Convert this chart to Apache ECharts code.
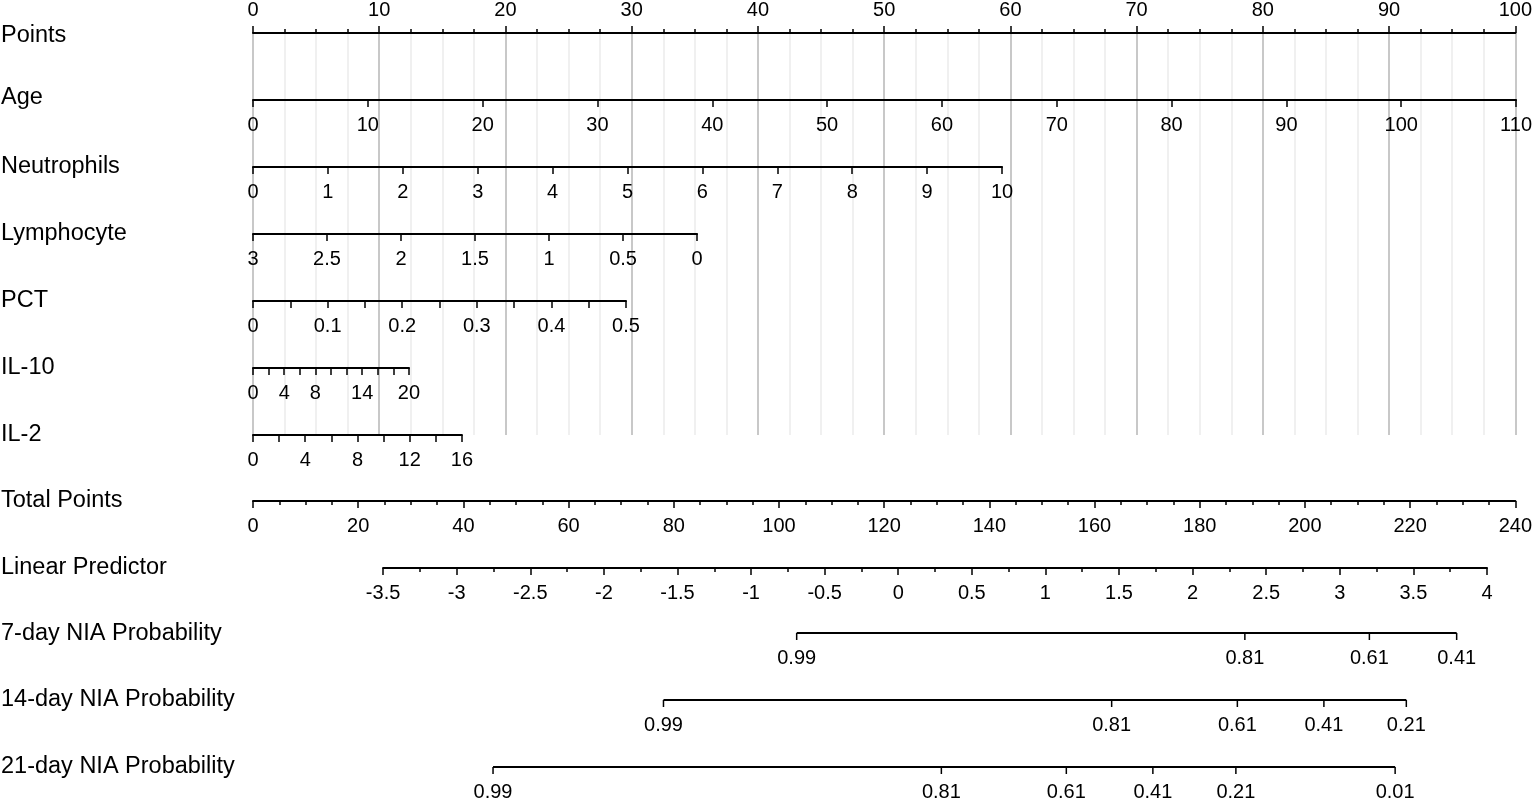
<!DOCTYPE html>
<html><head><meta charset="utf-8">
<script src="https://cdn.jsdelivr.net/npm/echarts@6/dist/echarts.min.js"></script>
<style>html,body{margin:0;padding:0;background:#fff}#c{width:1535px;height:803px}</style>
</head><body><div id="c"></div>
<script>
// ---------- DATA ----------
const rowNames = ['Points','Age','Neutrophils','Lymphocyte','PCT','IL-10','IL-2','Total Points','Linear Predictor','7-day NIA Probability','14-day NIA Probability','21-day NIA Probability'];

const pointsRange = [0, 100];
const pointsStep = 10;

const predictorNames = ['Age','Neutrophils','Lymphocyte','PCT','IL-10','IL-2'];
const predictorMin = [0, 0, 0, 0, 0, 0];
const predictorMax = [110, 10, 3, 0.5, 20, 16];
const predictorTickStep = [10, 1, 0.5, 0.05, 2, 2];
const predictorReversed = [false, false, true, false, false, false];
const predictorMaxPoints = [100, 59.26, 35.13, 29.51, 12.34, 16.53];
const pctLabels = [0, 0.1, 0.2, 0.3, 0.4, 0.5];
const il10Labels = [0, 4, 8, 14, 20];
const il2Labels = [0, 4, 8, 12, 16];
const predictorLabels = [null, null, null, pctLabels, il10Labels, il2Labels];

const totalPointsRange = [0, 240];
const totalPointsStep = 20;

const lpRange = [-3.5, 4];
const lpStep = 0.5;
const lpAtTotalPoints = [24.7, 234.3];

const probRowNames = ['7-day', '14-day', '21-day'];
const prob7Labels = ['0.99', '0.81', '0.61', '0.41'];
const prob7LP = [-0.690, 2.355, 3.201, 3.794];
const prob14Labels = ['0.99', '0.81', '0.61', '0.41', '0.21'];
const prob14LP = [-1.595, 1.450, 2.304, 2.892, 3.452];
const prob21Labels = ['0.99', '0.81', '0.61', '0.41', '0.21', '0.01'];
const prob21LP = [-2.753, 0.293, 1.142, 1.730, 2.294, 3.376];
const probLabels = [prob7Labels, prob14Labels, prob21Labels];
const probLP = [prob7LP, prob14LP, prob21LP];

// ---------- LAYOUT ----------
const plotLeft = 253, plotWidth = 1264;
const rowY = [33, 100, 167, 234, 301, 368, 435, 501, 568, 633, 700, 768];
const titleY = [36, 98, 167, 234, 301, 368, 435, 501, 568, 634, 700, 767];
const FONT = '"Liberation Sans", Arial, Helvetica, sans-serif';
const TICK_FS = 20, TITLE_FS = 23.5, LABEL_MARGIN = 15, TICK_LEN = 7;

const grids = [], xAxes = [], yAxes = [];
function baseX(extra) {
  return Object.assign({
    type: 'value', z: 3,
    axisLine: { show: true, onZero: false, lineStyle: { color: '#000', width: 2 } },
    axisTick: { show: true, length: TICK_LEN, lineStyle: { color: '#000', width: 1.5 } },
    axisLabel: { show: true, color: '#000', fontSize: TICK_FS, fontFamily: FONT, margin: LABEL_MARGIN, hideOverlap: false, showMinLabel: true, showMaxLabel: true },
    splitLine: { show: false }
  }, extra);
}
function addGrid(g, x, y) {
  const idx = grids.length;
  grids.push(Object.assign({ containLabel: false }, g));
  xAxes.push(Object.assign(x, { gridIndex: idx }));
  yAxes.push(Object.assign(y || { type: 'value', show: false, min: 0, max: 1 }, { gridIndex: idx }));
  return idx;
}
function inList(list, v) { return list.some(u => Math.abs(u - v) < 1e-9); }

// Points axis with reference grid lines
addGrid({ left: plotLeft, width: plotWidth, top: rowY[0], height: rowY[6] - rowY[0] },
  baseX({
    min: pointsRange[0], max: pointsRange[1], interval: pointsStep, position: 'top', z: 1,
    axisLabel: { show: true, color: '#000', fontSize: TICK_FS, fontFamily: FONT, margin: 13, hideOverlap: false },
    minorTick: { show: true, splitNumber: 4, length: 4, lineStyle: { color: '#000', width: 1.5 } },
    splitLine: { show: true, lineStyle: { color: '#c8c8c8', width: 2 } },
    minorSplitLine: { show: true, lineStyle: { color: '#ececec', width: 1.5 } }
  }));

// Predictor axes
predictorNames.forEach((n, i) => {
  const labs = predictorLabels[i];
  const ax = baseX({
    min: predictorMin[i], max: predictorMax[i], interval: predictorTickStep[i],
    position: 'bottom', inverse: predictorReversed[i]
  });
  if (labs) ax.axisLabel.formatter = v => inList(labs, v) ? String(+(+v).toFixed(4)) : '';
  addGrid({ left: plotLeft, width: plotWidth * predictorMaxPoints[i] / pointsRange[1], top: rowY[i + 1] - 1, height: 1 }, ax);
});

// Total points
addGrid({ left: plotLeft, width: plotWidth, top: rowY[7] - 1, height: 1 },
  baseX({
    min: totalPointsRange[0], max: totalPointsRange[1], interval: totalPointsStep, position: 'bottom',
    minorTick: { show: true, splitNumber: 4, length: 4, lineStyle: { color: '#000', width: 1.5 } }
  }));

// Linear predictor
const lpLeft = plotLeft + plotWidth * lpAtTotalPoints[0] / totalPointsRange[1];
const lpWidth = plotWidth * (lpAtTotalPoints[1] - lpAtTotalPoints[0]) / totalPointsRange[1];
addGrid({ left: lpLeft, width: lpWidth, top: rowY[8] - 1, height: 1 },
  baseX({
    min: lpRange[0], max: lpRange[1], interval: lpStep, position: 'bottom',
    minorTick: { show: true, splitNumber: 2, length: 4, lineStyle: { color: '#000', width: 1.5 } }
  }));

// Probability rows: hidden LP scale + category rows
const rowGap = rowY[10] - rowY[9];
const probGrid = addGrid({ left: lpLeft, width: lpWidth, top: rowY[9] - rowGap / 2, height: rowGap * 3 },
  { type: 'value', min: lpRange[0], max: lpRange[1], show: false },
  { type: 'category', data: probRowNames, inverse: true, show: false });

const series = [{
  type: 'custom', xAxisIndex: probGrid, yAxisIndex: probGrid, clip: false, silent: true,
  data: probLP.map((lps, k) => [lps[0], k]),
  renderItem: function (params, api) {
    const k = params.dataIndex;
    const lps = probLP[k], labs = probLabels[k];
    const p0 = api.coord([lps[0], k]), p1 = api.coord([lps[lps.length - 1], k]);
    const children = [{ type: 'line', shape: { x1: p0[0], y1: p0[1], x2: p1[0], y2: p1[1] }, style: { stroke: '#000', lineWidth: 2 } }];
    lps.forEach((v, j) => {
      const p = api.coord([v, k]);
      children.push({ type: 'line', shape: { x1: p[0], y1: p[1], x2: p[0], y2: p[1] + TICK_LEN }, style: { stroke: '#000', lineWidth: 1.5 } });
      children.push({ type: 'text', style: { x: p[0], y: p[1] + LABEL_MARGIN, text: labs[j], fill: '#000', fontSize: TICK_FS, fontFamily: FONT, align: 'center', verticalAlign: 'top' } });
    });
    return { type: 'group', children };
  }
}];

const graphic = rowNames.map((n, i) => ({
  type: 'text', x: 1, y: titleY[i],
  style: { text: n, fill: '#000', fontSize: TITLE_FS, fontFamily: FONT, verticalAlign: 'middle', textVerticalAlign: 'middle' }
}));

const chart = echarts.init(document.getElementById('c'), null, { renderer: 'canvas' });
chart.setOption({
  backgroundColor: '#fff',
  animation: false,
  grid: grids, xAxis: xAxes, yAxis: yAxes,
  series: series,
  graphic: graphic
});
</script></body></html>
